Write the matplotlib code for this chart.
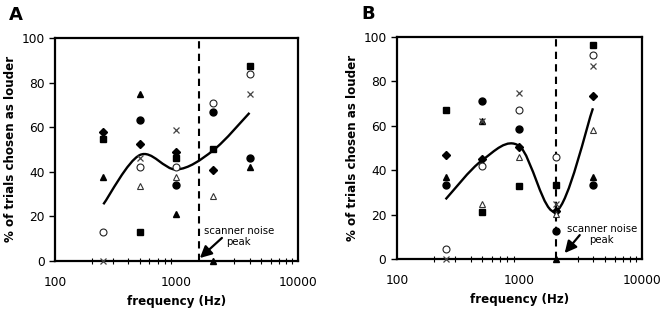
import numpy as np
import matplotlib
matplotlib.use("Agg")
import matplotlib.pyplot as plt
from matplotlib.path import Path
from matplotlib.patches import PathPatch

plt.rcParams["font.family"] = "DejaVu Sans"

freqs = [250, 500, 1000, 2000, 4000]
nan = np.nan

# panel A: % of trials chosen as louder, one list per subject
a_diamond = [58, 52.5, 49, 40.8, nan]
a_square = [54.5, 13, 46, 50, 87.5]
a_triangle = [37.5, 75, 21, 0, 42]
a_opencircle = [13, 42, 42, 71, 84]
a_cross = [0, 46, 58.5, nan, 75]
a_circle = [nan, 63, 34, 67, 46]
a_opentriangle = [nan, 33.5, 37.5, 29, nan]
a_mean = [25.4, 47.5, 41, 49.5, 66.4]
a_noise = 1530

# panel B
b_diamond = [47, 45, 50.5, 21.5, 73.5]
b_square = [67, 21, 33, 33.5, 96.5]
b_triangle = [37, 62, nan, 0, 37]
b_opencircle = [4.5, 42, 67, 46, 92]
b_cross = [0, 62, 75, 25, 87]
b_circle = [33.5, 71, 58.5, 12.8, 33.5]
b_opentriangle = [nan, 25, 46, 20.5, 58]
b_mean = [26.9, 44.6, 50.9, 21.5, 67.9]
b_noise = 2000


def smooth_path(x, y):
    """Excel-like smoothed line: cubic bezier segments in log-x space"""
    lx = np.log10(x)
    pts = np.column_stack([lx, y])
    verts = [pts[0]]
    codes = [Path.MOVETO]
    n = len(pts)
    for i in range(n - 1):
        p0 = pts[max(i - 1, 0)]
        p1 = pts[i]
        p2 = pts[i + 1]
        p3 = pts[min(i + 2, n - 1)]
        c1 = p1 + (p2 - p0) / 6.0
        c2 = p2 - (p3 - p1) / 6.0
        verts += [c1, c2, p2]
        codes += [Path.CURVE4] * 3
    verts = np.array(verts)
    verts[:, 0] = 10 ** verts[:, 0]
    return Path(verts, codes)


def draw_panel(ax, series, mean, noise, txt_xy, arrow_tail, arrow_head):
    styles = [
        dict(marker="D", ms=3.6, mfc="k", mec="k"),
        dict(marker="s", ms=4.3, mfc="k", mec="k"),
        dict(marker="^", ms=5, mfc="k", mec="k"),
        dict(marker="o", ms=5, mfc="white", mec="#222222", mew=0.8),
        dict(marker="x", ms=5, mfc="none", mec="#444444", mew=0.9),
        dict(marker="o", ms=5, mfc="k", mec="k"),
        dict(marker="^", ms=5, mfc="white", mec="#333333", mew=0.8),
    ]
    for vals, st in zip(series, styles):
        ax.plot(freqs, vals, linestyle="none", clip_on=False, zorder=4, **st)

    ax.add_patch(PathPatch(smooth_path(freqs, mean), fill=False,
                           edgecolor="k", lw=1.7, zorder=3))
    ax.plot([noise, noise], [0, 100], color="k", lw=1.5,
            linestyle=(0, (3.5, 2.5)), zorder=2)

    ax.annotate("", xy=arrow_head, xytext=arrow_tail,
                arrowprops=dict(arrowstyle="-|>,head_length=0.7,head_width=0.35",
                                color="k", lw=1.6, shrinkA=0, shrinkB=0))
    ax.text(txt_xy[0], txt_xy[1], "scanner noise\npeak", ha="center", va="center",
            fontsize=7.3, linespacing=1.2)

    ax.set_xscale("log")
    ax.set_xlim(100, 10000)
    ax.set_ylim(0, 100)
    ax.set_yticks([0, 20, 40, 60, 80, 100])
    ax.set_xticks([100, 1000, 10000])
    ax.set_xticklabels(["100", "1000", "10000"])
    ax.tick_params(axis="both", labelsize=8.8, width=1.0, length=4, direction="out")
    ax.tick_params(axis="x", which="major", length=0, pad=11)
    ax.tick_params(axis="x", which="minor", length=5, width=0.8, direction="inout")
    for s in ax.spines.values():
        s.set_linewidth(1.6)
    ax.set_xlabel("frequency (Hz)", fontsize=8.6, fontweight="bold", labelpad=4)
    ax.set_ylabel("% of trials chosen as louder", fontsize=8.6, fontweight="bold", labelpad=3)


fig = plt.figure(figsize=(6.67, 3.11), dpi=100)
axA = fig.add_axes([0.0825, 0.161, 0.364, 0.717])
axB = fig.add_axes([0.595, 0.167, 0.367, 0.714])

draw_panel(axA, [a_diamond, a_square, a_triangle, a_opencircle, a_cross, a_circle, a_opentriangle],
           a_mean, a_noise, (3270, 11), (2370, 10.3), (1560, 1.3))
draw_panel(axB, [b_diamond, b_square, b_triangle, b_opencircle, b_cross, b_circle, b_opentriangle],
           b_mean, b_noise, (4710, 11), (3120, 10.8), (2350, 2.7))

fig.text(16 / 667, 1 - 15 / 311, "A", fontsize=13, fontweight="bold", ha="center", va="center")
fig.text(368 / 667, 1 - 14 / 311, "B", fontsize=13, fontweight="bold", ha="center", va="center")

fig.savefig("out.png", dpi=100)
